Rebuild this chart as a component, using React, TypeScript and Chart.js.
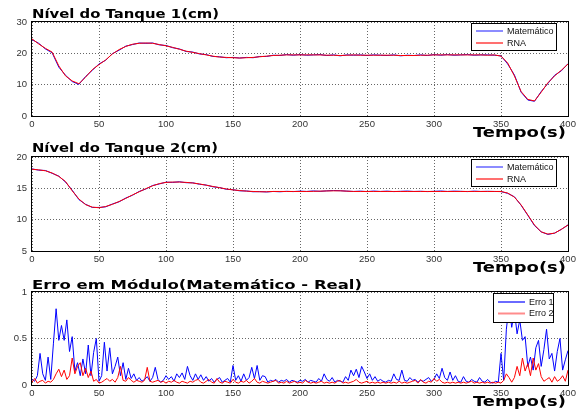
import { useEffect, useRef } from "react";
import { Chart, registerables } from "chart.js";

Chart.register(...registerables);

// ---------------- DATA ----------------
const tempoNivel = [
  0, 5, 10, 15, 20, 25, 30, 35, 40, 45, 50, 55, 60, 65, 70, 75, 80, 85, 90, 95,
  100, 105, 110, 115, 120, 125, 130, 135, 140, 145, 150, 155, 160, 165, 170, 175, 180, 185, 190, 195,
  200, 205, 210, 215, 220, 225, 230, 235, 240, 245, 250, 255, 260, 265, 270, 275, 280, 285, 290, 295,
  300, 305, 310, 315, 320, 325, 330, 335, 340, 345, 350, 355, 360, 365, 370, 375, 380, 385, 390, 395, 400,
];

const tanque1Matematico = [
  24.4, 23.2, 21.4, 20.2, 15.6, 13.0, 11.0, 10.1, 12.6, 14.6, 16.6, 17.8, 19.9, 21.0, 22.3, 22.8, 23.3, 23.2, 23.3, 22.7,
  22.5, 21.8, 21.4, 20.6, 20.4, 19.8, 19.6, 19.0, 18.9, 18.6, 18.7, 18.5, 18.7, 18.6, 19.0, 19.0, 19.4, 19.3, 19.6, 19.4,
  19.6, 19.4, 19.5, 19.6, 19.3, 19.5, 19.2, 19.5, 19.4, 19.5, 19.3, 19.5, 19.4, 19.3, 19.5, 19.2, 19.4, 19.3, 19.5, 19.3,
  19.6, 19.4, 19.6, 19.4, 19.5, 19.6, 19.4, 19.5, 19.5, 19.4, 19.2, 16.6, 13.1, 7.6, 5.1, 4.7, 7.8, 10.4, 13.0, 14.4, 16.7,
];

const tanque1RNA = [
  24.6, 23.0, 21.6, 20.4, 16.0, 12.8, 11.2, 10.3, 12.4, 14.8, 16.4, 17.9, 19.8, 21.2, 22.2, 22.9, 23.2, 23.3, 23.2, 22.8,
  22.4, 21.9, 21.3, 20.7, 20.3, 19.9, 19.5, 19.1, 18.8, 18.7, 18.6, 18.5, 18.6, 18.7, 18.9, 19.1, 19.3, 19.4, 19.5, 19.5,
  19.5, 19.5, 19.5, 19.5, 19.4, 19.4, 19.3, 19.4, 19.5, 19.4, 19.4, 19.4, 19.4, 19.4, 19.4, 19.3, 19.3, 19.3, 19.4, 19.4,
  19.5, 19.5, 19.5, 19.5, 19.5, 19.5, 19.5, 19.5, 19.4, 19.5, 19.1, 16.9, 12.8, 7.8, 5.3, 4.8, 7.6, 10.6, 12.8, 14.6, 16.6,
];

const tanque2Matematico = [
  18.1, 17.9, 17.85, 17.4, 16.95, 16.0, 14.7, 13.2, 12.45, 11.95, 11.95, 12.05, 12.5, 12.85, 13.45, 13.9, 14.5, 14.9, 15.45, 15.7,
  15.98, 15.95, 16.05, 15.9, 15.88, 15.65, 15.52, 15.25, 15.12, 14.85, 14.78, 14.6, 14.58, 14.45, 14.48, 14.42, 14.5, 14.45, 14.52, 14.48,
  14.55, 14.5, 14.58, 14.52, 14.6, 14.65, 14.62, 14.55, 14.5, 14.55, 14.48, 14.56, 14.5, 14.55, 14.48, 14.52, 14.56, 14.5, 14.53, 14.48,
  14.52, 14.57, 14.5, 14.55, 14.52, 14.48, 14.55, 14.5, 14.52, 14.5, 14.48, 14.2, 13.65, 12.3, 10.7, 9.05, 8.05, 7.65, 7.85, 8.45, 9.15,
];

const tanque2RNA = [
  18.05, 17.95, 17.8, 17.45, 16.9, 16.1, 14.6, 13.3, 12.4, 12.0, 11.9, 12.1, 12.45, 12.9, 13.4, 13.95, 14.45, 14.95, 15.4, 15.75,
  15.95, 16.0, 16.0, 15.95, 15.85, 15.7, 15.5, 15.3, 15.1, 14.9, 14.75, 14.65, 14.55, 14.5, 14.45, 14.45, 14.5, 14.5, 14.5, 14.5,
  14.5, 14.5, 14.52, 14.55, 14.58, 14.6, 14.6, 14.55, 14.5, 14.5, 14.5, 14.5, 14.5, 14.5, 14.5, 14.5, 14.5, 14.5, 14.5, 14.5,
  14.5, 14.5, 14.5, 14.5, 14.5, 14.5, 14.5, 14.5, 14.5, 14.5, 14.5, 14.25, 13.6, 12.35, 10.75, 9.15, 8.05, 7.7, 7.85, 8.45, 9.15,
];

const tempoErro = [
  0, 2, 4, 6, 8, 10, 12, 14, 16, 18, 20, 22, 24, 26, 28, 30, 32, 34, 36, 38,
  40, 42, 44, 46, 48, 50, 52, 54, 56, 58, 60, 62, 64, 66, 68, 70, 72, 74, 76, 78,
  80, 82, 84, 86, 88, 90, 92, 94, 96, 98, 100, 102, 104, 106, 108, 110, 112, 114, 116, 118,
  120, 122, 124, 126, 128, 130, 132, 134, 136, 138, 140, 142, 144, 146, 148, 150, 152, 154, 156, 158,
  160, 162, 164, 166, 168, 170, 172, 174, 176, 178, 180, 182, 184, 186, 188, 190, 192, 194, 196, 198,
  200, 202, 204, 206, 208, 210, 212, 214, 216, 218, 220, 222, 224, 226, 228, 230, 232, 234, 236, 238,
  240, 242, 244, 246, 248, 250, 252, 254, 256, 258, 260, 262, 264, 266, 268, 270, 272, 274, 276, 278,
  280, 282, 284, 286, 288, 290, 292, 294, 296, 298, 300, 302, 304, 306, 308, 310, 312, 314, 316, 318,
  320, 322, 324, 326, 328, 330, 332, 334, 336, 338, 340, 342, 344, 346, 348, 350, 352, 354, 356, 358,
  360, 362, 364, 366, 368, 370, 372, 374, 376, 378, 380, 382, 384, 386, 388, 390, 392, 394, 396, 398, 400,
];

const erro1 = [
  0.06, 0.04, 0.1, 0.34, 0.12, 0.05, 0.3, 0.06, 0.45, 0.82, 0.48, 0.64, 0.48, 0.7, 0.36, 0.52, 0.15, 0.24, 0.1, 0.28,
  0.12, 0.43, 0.1, 0.35, 0.5, 0.04, 0.1, 0.46, 0.15, 0.4, 0.12, 0.2, 0.3, 0.1, 0.24, 0.06, 0.18, 0.07, 0.12, 0.05,
  0.08, 0.04, 0.06, 0.09, 0.04, 0.08, 0.19, 0.06, 0.03, 0.05, 0.1, 0.06, 0.09, 0.04, 0.12, 0.08, 0.13, 0.06, 0.2, 0.1,
  0.05, 0.12, 0.06, 0.11, 0.05, 0.09, 0.04, 0.07, 0.03, 0.06, 0.08, 0.03, 0.05, 0.07, 0.03, 0.21, 0.05, 0.1, 0.04, 0.12,
  0.05, 0.08, 0.19, 0.07, 0.21, 0.05, 0.1, 0.09, 0.03, 0.05, 0.04, 0.06, 0.03, 0.05, 0.04, 0.06, 0.03, 0.05, 0.04, 0.03,
  0.05, 0.04, 0.06, 0.03, 0.05, 0.04, 0.03, 0.07, 0.04, 0.12, 0.06, 0.04, 0.08, 0.03, 0.05, 0.04, 0.03, 0.09, 0.05, 0.16,
  0.1, 0.17, 0.08, 0.2, 0.14, 0.07, 0.12, 0.05, 0.09, 0.04, 0.06, 0.04, 0.03, 0.05, 0.04, 0.12, 0.06, 0.05, 0.16, 0.05,
  0.04, 0.08, 0.05, 0.06, 0.03, 0.05, 0.04, 0.06, 0.08, 0.04, 0.06, 0.12, 0.07, 0.18, 0.08, 0.05, 0.14, 0.05, 0.1, 0.04,
  0.03, 0.09, 0.04, 0.03, 0.06, 0.04, 0.03, 0.08, 0.04, 0.03, 0.06, 0.03, 0.02, 0.04, 0.03, 0.34, 0.05, 0.6, 0.85, 0.62,
  0.8, 0.55, 0.7, 0.48, 0.52, 0.2, 0.3, 0.16, 0.4, 0.48, 0.2, 0.38, 0.6, 0.28, 0.34, 0.15, 0.36, 0.5, 0.16, 0.27, 0.37,
];

const erro2 = [
  0.03, 0.07, 0.02, 0.04, 0.05, 0.02, 0.04, 0.03, 0.06, 0.12, 0.17, 0.09, 0.16, 0.06, 0.1, 0.29, 0.12, 0.2, 0.24, 0.1,
  0.18, 0.08, 0.15, 0.04, 0.06, 0.02, 0.03, 0.05, 0.07, 0.04, 0.06, 0.03, 0.08, 0.2, 0.05, 0.04, 0.08, 0.05, 0.03, 0.05,
  0.04, 0.03, 0.05, 0.19, 0.04, 0.03, 0.04, 0.05, 0.03, 0.04, 0.02, 0.04, 0.03, 0.05, 0.03, 0.02, 0.04, 0.03, 0.02, 0.04,
  0.03, 0.05, 0.06, 0.03, 0.02, 0.04, 0.06, 0.03, 0.02, 0.07, 0.03, 0.02, 0.04, 0.03, 0.02, 0.06, 0.03, 0.02, 0.04, 0.03,
  0.05, 0.02, 0.04, 0.07, 0.03, 0.02, 0.04, 0.03, 0.02, 0.03, 0.04, 0.05, 0.02, 0.03, 0.02, 0.04, 0.02, 0.03, 0.04, 0.02,
  0.03, 0.02, 0.05, 0.03, 0.02, 0.03, 0.02, 0.03, 0.04, 0.02, 0.03, 0.02, 0.03, 0.02, 0.04, 0.05, 0.02, 0.03, 0.02, 0.03,
  0.04, 0.06, 0.03, 0.02, 0.03, 0.04, 0.02, 0.03, 0.02, 0.03, 0.02, 0.03, 0.02, 0.03, 0.02, 0.03, 0.02, 0.04, 0.02, 0.03,
  0.02, 0.03, 0.04, 0.05, 0.02, 0.06, 0.03, 0.02, 0.04, 0.03, 0.07, 0.04, 0.06, 0.03, 0.02, 0.03, 0.02, 0.03, 0.02, 0.03,
  0.02, 0.03, 0.02, 0.03, 0.04, 0.02, 0.03, 0.02, 0.03, 0.02, 0.03, 0.02, 0.03, 0.02, 0.03, 0.02, 0.05, 0.12, 0.08, 0.03,
  0.08, 0.2, 0.1, 0.29, 0.15, 0.23, 0.1, 0.29, 0.16, 0.23, 0.09, 0.04, 0.06, 0.08, 0.03, 0.09, 0.04, 0.06, 0.1, 0.04, 0.16,
];

const ticksTempo = [0, 50, 100, 150, 200, 250, 300, 350, 400];
const titulos = ["Nível do Tanque 1(cm)", "Nível do Tanque 2(cm)", "Erro em Módulo(Matemático - Real)"];
const rotuloX = "Tempo(s)";
const legendaNivel = ["Matemático", "RNA"];
const legendaErro = ["Erro 1", "Erro 2"];

// ---------------- LAYOUT ----------------
const W = 579;
const H = 414;
const AREA_LEFT = 32;
const AREA_RIGHT = 568;
const XAXIS_H = 24;
const BLUE = "#0000ff";
const RED = "#ff0000";
const TICK_FONT = { family: "'Liberation Sans', Arial, sans-serif", size: 9.5 };
const TICK_COLOR = "#333333";
const GRID_COLOR = "rgba(0,0,0,0.6)";

function fitText(ctx: CanvasRenderingContext2D, text: string, x: number, y: number, width: number, font: string) {
  ctx.save();
  ctx.font = font;
  ctx.textBaseline = "alphabetic";
  ctx.textAlign = "left";
  const w = ctx.measureText(text).width;
  ctx.translate(x, y);
  ctx.scale(width / w, 1);
  ctx.fillStyle = "#000";
  ctx.fillText(text, 0, 0);
  ctx.restore();
}

const decorPlugin = {
  id: "decor",
  afterDraw(chart: any, _args: any, opts: any) {
    const ctx: CanvasRenderingContext2D = chart.ctx;
    const a = chart.chartArea;
    ctx.save();
    // axes box
    ctx.strokeStyle = "#000";
    ctx.lineWidth = 1;
    ctx.strokeRect(a.left - 0.5, a.top - 0.5, a.right - a.left + 1, a.bottom - a.top + 1);

    // title + x label
    fitText(ctx, opts.title, a.left, a.top - opts.titleGap, opts.titleWidth, "bold 13px 'DejaVu Sans', sans-serif");
    fitText(ctx, opts.xlabel, 473, a.bottom + 21, 93, "bold 14px 'DejaVu Sans', sans-serif");

    // legend
    const L = opts.legend;
    ctx.fillStyle = "#fff";
    ctx.fillRect(L.x, L.y, L.w, L.h);
    ctx.strokeStyle = "#000";
    ctx.strokeRect(L.x + 0.5, L.y + 0.5, L.w, L.h);
    ctx.font = "9px 'Liberation Sans', Arial, sans-serif";
    ctx.textBaseline = "middle";
    ctx.textAlign = "left";
    L.items.forEach((it: any, i: number) => {
      const y = L.y + L.rows[i];
      ctx.strokeStyle = it.color;
      ctx.lineWidth = 2;
      ctx.beginPath();
      ctx.moveTo(L.x + L.lineX1, y);
      ctx.lineTo(L.x + L.lineX2, y);
      ctx.stroke();
      ctx.fillStyle = "#111";
      ctx.fillText(it.label, L.x + L.textX, y + 0.5);
    });
    ctx.restore();
  },
};

type Panel = {
  top: number;
  bottom: number;
  ymin: number;
  ymax: number;
  ystep: number;
  times: number[];
  series: { label: string; data: number[]; color: string; order: number }[];
  title: string;
  titleGap: number;
  titleWidth: number;
  legend: any;
};

function buildConfig(p: Panel): any {
  return {
    type: "line",
    data: {
      labels: p.times,
      datasets: p.series.map((s) => ({
        label: s.label,
        data: s.data,
        borderColor: s.color,
        backgroundColor: s.color,
        borderWidth: 1,
        pointRadius: 0,
        tension: 0,
        fill: false,
        order: s.order,
      })),
    },
    options: {
      animation: false,
      responsive: false,
      events: [],
      layout: {
        padding: { top: p.top, bottom: H - p.bottom - XAXIS_H, left: 0, right: W - AREA_RIGHT },
      },
      plugins: {
        legend: { display: false },
        tooltip: { enabled: false },
        title: { display: false },
        decor: {
          title: p.title,
          titleGap: p.titleGap,
          titleWidth: p.titleWidth,
          xlabel: rotuloX,
          legend: p.legend,
        },
      },
      scales: {
        x: {
          type: "linear",
          min: 0,
          max: 400,
          afterFit: (s: any) => {
            s.height = XAXIS_H;
          },
          afterBuildTicks: (s: any) => {
            s.ticks = ticksTempo.map((v) => ({ value: v }));
          },
          ticks: {
            font: TICK_FONT,
            color: TICK_COLOR,
            padding: 3,
            maxRotation: 0,
            autoSkip: false,
            callback: (v: any) => String(v),
          },
          grid: { color: GRID_COLOR, drawTicks: false, lineWidth: 1 },
          border: { display: false, dash: [1, 2] },
        },
        y: {
          type: "linear",
          min: p.ymin,
          max: p.ymax,
          afterFit: (s: any) => {
            s.width = AREA_LEFT;
          },
          ticks: {
            stepSize: p.ystep,
            font: TICK_FONT,
            color: TICK_COLOR,
            padding: 5,
            callback: (v: any) => String(Number(v)),
          },
          grid: { color: GRID_COLOR, drawTicks: false, lineWidth: 1 },
          border: { display: false, dash: [1, 2] },
        },
      },
    },
    plugins: [decorPlugin],
  };
}

const nivelLegend = (labels: string[]) => ({
  x: 471,
  w: 85,
  h: 27,
  lineX1: 5,
  lineX2: 32,
  textX: 36,
  rows: [8, 20],
  items: [
    { label: labels[0], color: "#8c8cff" },
    { label: labels[1], color: "#ff7070" },
  ],
});

const panels: Panel[] = [
  {
    top: 22,
    bottom: 116,
    ymin: 0,
    ymax: 30,
    ystep: 10,
    times: tempoNivel,
    series: [
      { label: legendaNivel[0], data: tanque1Matematico, color: BLUE, order: 1 },
      { label: legendaNivel[1], data: tanque1RNA, color: RED, order: 0 },
    ],
    title: titulos[0],
    titleGap: 4.5,
    titleWidth: 187,
    legend: { ...nivelLegend(legendaNivel), y: 23 },
  },
  {
    top: 157,
    bottom: 251,
    ymin: 5,
    ymax: 20,
    ystep: 5,
    times: tempoNivel,
    series: [
      { label: legendaNivel[0], data: tanque2Matematico, color: BLUE, order: 1 },
      { label: legendaNivel[1], data: tanque2RNA, color: RED, order: 0 },
    ],
    title: titulos[1],
    titleGap: 5,
    titleWidth: 186,
    legend: { ...nivelLegend(legendaNivel), y: 159 },
  },
  {
    top: 292,
    bottom: 385,
    ymin: 0,
    ymax: 1,
    ystep: 0.5,
    times: tempoErro,
    series: [
      { label: legendaErro[0], data: erro1, color: BLUE, order: 1 },
      { label: legendaErro[1], data: erro2, color: RED, order: 0 },
    ],
    title: titulos[2],
    titleGap: 3.5,
    titleWidth: 330,
    legend: {
      x: 493,
      y: 293,
      w: 60,
      h: 29,
      lineX1: 5,
      lineX2: 32,
      textX: 36,
      rows: [9, 20.5],
      items: [
        { label: legendaErro[0], color: "#6a6aff" },
        { label: legendaErro[1], color: "#ff8c8c" },
      ],
    },
  },
];

function PanelCanvas({ panel }: { panel: Panel }) {
  const ref = useRef<HTMLCanvasElement | null>(null);
  useEffect(() => {
    if (!ref.current) return;
    const chart = new Chart(ref.current, buildConfig(panel));
    return () => chart.destroy();
  }, [panel]);
  return (
    <canvas
      ref={ref}
      width={W}
      height={H}
      style={{ position: "absolute", left: 0, top: 0, width: W, height: H }}
    />
  );
}

export default function App() {
  return (
    <div style={{ position: "fixed", left: 0, top: 0, width: W, height: H, background: "#fff", overflow: "hidden" }}>
      {panels.map((p, i) => (
        <PanelCanvas key={i} panel={p} />
      ))}
    </div>
  );
}
